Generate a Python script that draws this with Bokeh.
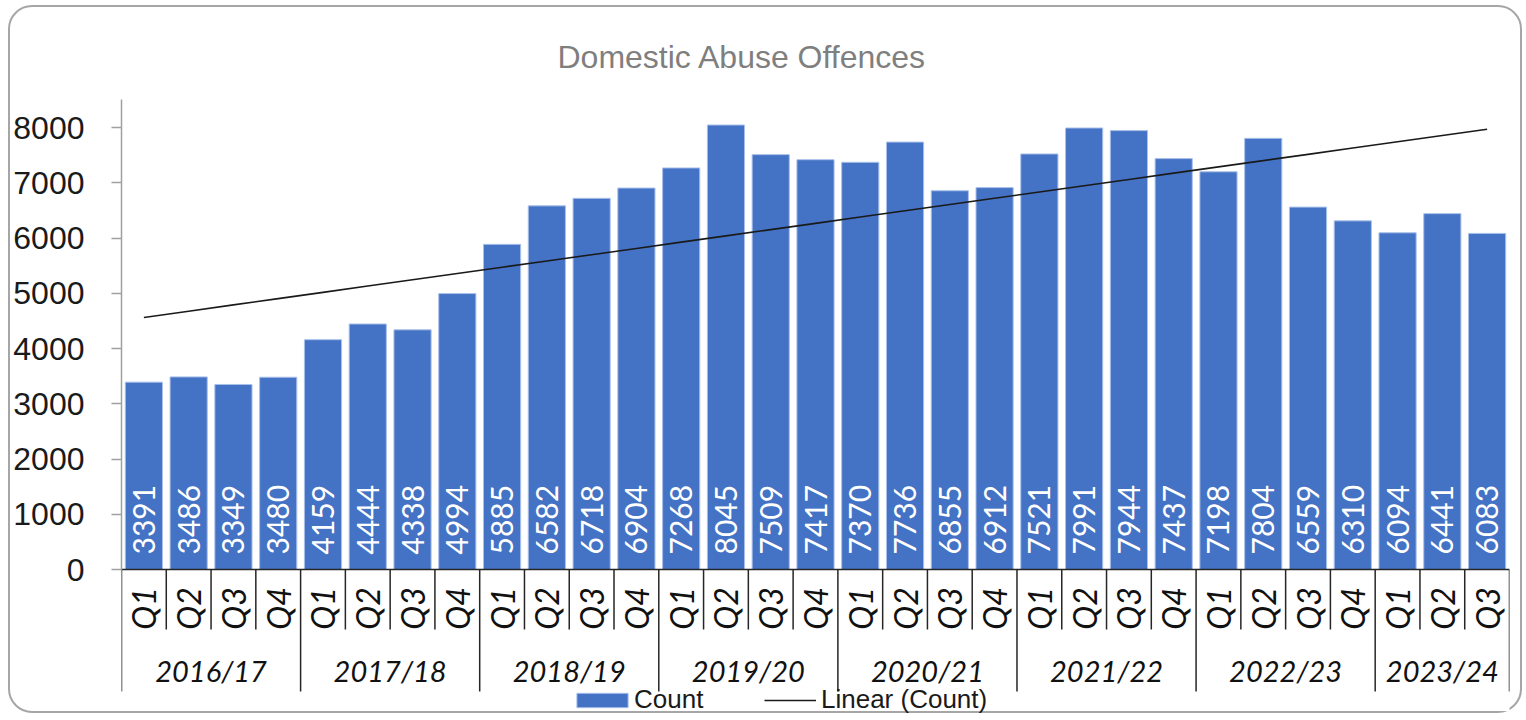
import math
import numpy as np
from bokeh.plotting import figure
from bokeh.models import Range1d, FixedTicker, ColumnDataSource, Legend, LegendItem
from bokeh.core.properties import value
from bokeh.embed import file_html
from bokeh.resources import INLINE

# ---------------- data ----------------
years = ["2016/17", "2017/18", "2018/19", "2019/20", "2020/21", "2021/22", "2022/23", "2023/24"]
quarters_per_year = [4, 4, 4, 4, 4, 4, 4, 3]
quarter_names = ["Q1", "Q2", "Q3", "Q4"]
counts = [3391, 3486, 3349, 3480, 4159, 4444, 4338, 4994, 5885, 6582, 6718, 6904,
          7268, 8045, 7509, 7417, 7370, 7736, 6855, 6912, 7521, 7991, 7944, 7437,
          7198, 7804, 6559, 6310, 6094, 6441, 6083]
y_ticks = [0, 1000, 2000, 3000, 4000, 5000, 6000, 7000, 8000]

# ---------------- derived ----------------
quarters = [q for n in quarters_per_year for q in quarter_names[:n]]
n = len(counts)
xs = [i + 0.5 for i in range(n)]

# linear trendline (least squares, like Excel)
idx = np.arange(1, n + 1)
slope, intercept = np.polyfit(idx, counts, 1)
trend = list(slope * idx + intercept)

# layout helpers: pixel scale of the value axis
PX_PER_UNIT = 55.25 / 1000.0
ZERO_PAGE_Y = 570.0
def yv(page_y):
    return (ZERO_PAGE_Y - page_y) / PX_PER_UNIT

FRAME_TOP = 100
FRAME_BOT = 716
y_top = yv(FRAME_TOP)
y_bot = yv(FRAME_BOT)

p = figure(width=1514, height=708, output_backend="svg", toolbar_location=None,
           x_range=Range1d(0, n), y_range=Range1d(y_bot, y_top),
           x_axis_location=None, min_border_left=111, min_border_right=15,
           min_border_top=92, min_border_bottom=0)
p.margin = (5, 0, 0, 8)
p.styles = {"border": "2px solid #a6a6a6", "border-radius": "24px", "box-sizing": "border-box"}
p.outline_line_color = None
p.xgrid.visible = False
p.ygrid.visible = False
p.background_fill_color = "white"
p.border_fill_color = None

# title
p.title.text = "Domestic Abuse Offences"
p.title.align = "left"
p.title.offset = 436
p.title.text_font = "Liberation Sans"
p.title.text_font_size = "32px"
p.title.text_font_style = "normal"
p.title.text_color = "#7f7f7f"
p.title.standoff = 50

# y axis
ya = p.yaxis[0]
ya.bounds = (0, y_top)
ya.ticker = FixedTicker(ticks=y_ticks)
ya.axis_line_color = "#a0a0a0"
ya.axis_line_width = 1.5
ya.major_tick_line_color = "#a0a0a0"
ya.major_tick_line_width = 1.5
ya.major_tick_out = 10
ya.major_tick_in = 0
ya.minor_tick_line_color = None
ya.major_label_text_font = "Liberation Sans"
ya.major_label_text_font_size = "32px"
ya.major_label_text_color = "#1a1a1a"
ya.major_label_standoff = 27

# bars
src = ColumnDataSource(dict(x=xs, top=counts, label=[str(c) for c in counts], q=quarters, trend=trend))
bars = p.vbar(x="x", top="top", bottom=0, width=0.83, source=src,
              fill_color="#4472C4", line_color="#a9c0ea", line_width=1)

# data labels inside bars (vertical, white)
p.text(x="x", y=0, text="label", source=src, angle=math.pi / 2,
       text_align="left", text_baseline="middle", y_offset=-15,
       text_color="white", text_font=value("Lato"), text_font_size="30px")

# trendline
trend_r = p.line(x="x", y="trend", source=src, line_color="#1a1a1a", line_width=1.6)

# category axis table
line_col = "#262626"
p.segment(x0=[0], y0=[0], x1=[n], y1=[0], line_color=line_col, line_width=1.5)
year_bounds = [0] + list(np.cumsum(quarters_per_year))
q_x, q_y0, q_y1 = [], [], []
for b in range(n + 1):
    q_x.append(b)
    q_y0.append(0)
    q_y1.append(yv(692) if b in year_bounds else yv(630))
p.segment(x0=q_x, y0=q_y0, x1=q_x, y1=q_y1, line_color=line_col, line_width=1.5)

p.text(x="x", y=yv(609), text="q", source=src, angle=math.pi / 2,
       text_align="center", text_baseline="middle",
       text_color="#111111", text_font=value("Lato"), text_font_style="italic",
       text_font_size="32px")

year_centers = [(year_bounds[i] + year_bounds[i + 1]) / 2 for i in range(len(years))]
p.text(x=year_centers, y=[yv(671)] * len(years), text=years,
       text_align="center", text_baseline="middle",
       text_color="#111111", text_font=value("Lato"), text_font_style="italic",
       text_font_size="29px")

# legend (two parts so each swatch gets its own size)
common = dict(orientation="horizontal", label_text_font="Liberation Sans",
              label_text_font_size="26px", label_text_color="#1a1a1a",
              padding=0, margin=0, border_line_color=None,
              background_fill_alpha=0)
legend1 = Legend(items=[LegendItem(label="Count", renderers=[bars])],
                 location=(449, 0), glyph_width=64, glyph_height=18,
                 label_standoff=0, **common)
legend2 = Legend(items=[LegendItem(label="Linear (Count)", renderers=[trend_r])],
                 location=(643, 0), glyph_width=52, glyph_height=18,
                 label_standoff=5, **common)
p.add_layout(legend1)
p.add_layout(legend2)

open("out.html", "w").write(file_html(p, INLINE))
